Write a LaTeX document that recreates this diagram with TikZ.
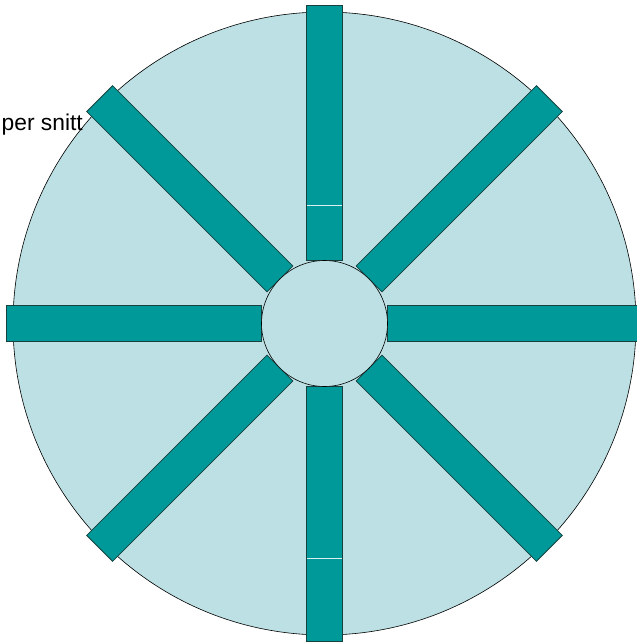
\documentclass[tikz,border=0pt]{standalone}
\usepackage{fontspec}
\setmainfont{Liberation Sans}
\definecolor{lightfill}{HTML}{BCE0E3}
\definecolor{tealbar}{HTML}{009999}
\definecolor{baredge}{HTML}{17403F}
\definecolor{seam}{HTML}{D8F0F0}
\begin{document}
\begin{tikzpicture}[x=1pt,y=-1pt,
  bar/.style={fill=tealbar,draw=baredge,line width=0.8pt},
  disc/.style={fill=lightfill,draw=black,line width=0.6pt},
  seamline/.style={draw=seam,line width=0.8pt}]
\useasboundingbox (0,0) rectangle (637,643);
\coordinate (C) at (324.5,323.5);
\draw[disc] (C) circle (311.5);
\begin{scope}[shift={(C)}]
  \foreach \a in {0,45,...,315}
    \draw[bar,rotate=\a] (63,-18.3) rectangle (318,18.3);
  \draw[seamline] (-17.8,-118.5) -- (17.8,-118.5);
  \draw[seamline] (-17.8,234.5) -- (17.8,234.5);
  \draw[disc] (0,0) circle (63);
\end{scope}
\node[anchor=base west,inner sep=0pt,font=\fontsize{22.8}{26}\selectfont] (label) at (1.5,130) {per snitt};
\end{tikzpicture}
\end{document}
